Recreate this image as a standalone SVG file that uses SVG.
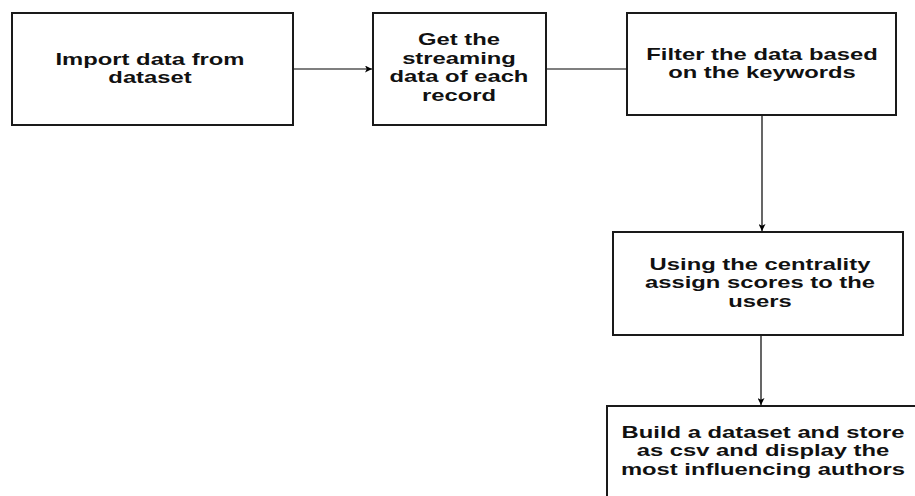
<svg xmlns="http://www.w3.org/2000/svg" width="915" height="496" viewBox="0 0 915 496">
<defs>
<style>
.box{fill:#fff;stroke:#1a1a1a;stroke-width:2}
.lbl{font-family:"Liberation Sans",Arial,sans-serif;font-weight:bold;font-size:17px;fill:#111;text-anchor:middle}
.edge{fill:none;stroke:#000;stroke-width:1.2}
</style>
<marker id="arr" viewBox="0 0 10 10" refX="10" refY="5" markerWidth="7" markerHeight="7" markerUnits="userSpaceOnUse" orient="auto">
<path d="M0,0 L10,5 L0,10 L2.5,5 Z" fill="#000"/>
</marker>
</defs>
<rect width="915" height="496" fill="#fff"/>
<g id="connectors">
<line class="edge" x1="293" y1="69" x2="372" y2="69" marker-end="url(#arr)"/>
<line class="edge" x1="546" y1="69" x2="627" y2="69"/>
<line class="edge" x1="762" y1="115" x2="762" y2="231" marker-end="url(#arr)"/>
<line class="edge" x1="761" y1="335" x2="761" y2="405" marker-end="url(#arr)"/>
</g>
<g id="n1">
<rect class="box" x="12" y="13" width="281" height="112"/>
<text class="lbl" transform="matrix(1.4 0 0 1 150 0)"><tspan x="0" y="65">Import data from</tspan><tspan x="0" y="83">dataset</tspan></text>
</g>
<g id="n2">
<rect class="box" x="373" y="13" width="173" height="112"/>
<text class="lbl" transform="matrix(1.4 0 0 1 459 0)"><tspan x="0" y="45.5">Get the</tspan><tspan x="0" y="64">streaming</tspan><tspan x="0" y="82.3">data of each</tspan><tspan x="0" y="100.6">record</tspan></text>
</g>
<g id="n3">
<rect class="box" x="627" y="13" width="269" height="102"/>
<text class="lbl" transform="matrix(1.4 0 0 1 762 0)"><tspan x="0" y="60">Filter the data based</tspan><tspan x="0" y="78.3">on the keywords</tspan></text>
</g>
<g id="n4">
<rect class="box" x="613" y="232" width="290" height="103"/>
<text class="lbl" transform="matrix(1.4 0 0 1 760 0)"><tspan x="0" y="270">Using the centrality</tspan><tspan x="0" y="288.3">assign scores to the</tspan><tspan x="0" y="306.6">users</tspan></text>
</g>
<g id="n5">
<rect class="box" x="607" y="406" width="311" height="98"/>
<text class="lbl" transform="matrix(1.4 0 0 1 763 0)"><tspan x="0" y="438">Build a dataset and store</tspan><tspan x="0" y="456.3">as csv and display the</tspan><tspan x="0" y="474.6">most influencing authors</tspan></text>
</g>
</svg>
